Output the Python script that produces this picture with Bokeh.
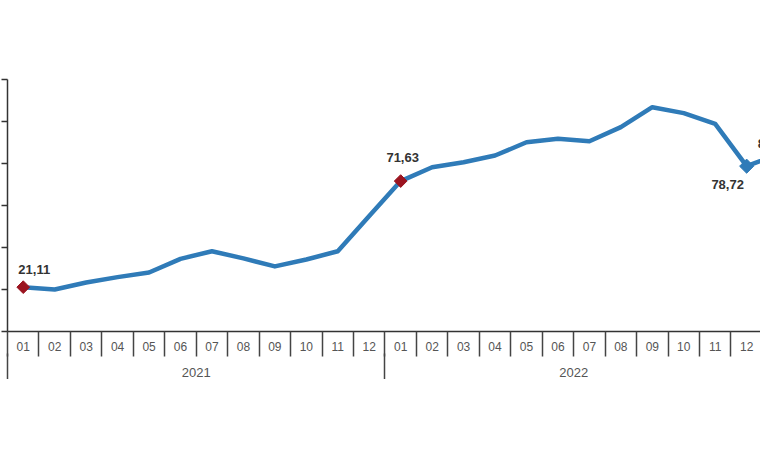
import math
from bokeh.plotting import figure
from bokeh.models import ColumnDataSource, FixedTicker, LinearAxis, Range1d, CustomJSTickFormatter
from bokeh.embed import file_html
from bokeh.resources import INLINE
from bokeh.core.properties import value

# ---- data ----
months = ["01", "02", "03", "04", "05", "06", "07", "08", "09", "10", "11", "12"]
years = ["2021", "2022"]
v2021 = [21.11, 20.0, 23.3, 25.9, 28.1, 34.6, 38.2, 34.8, 31.0, 34.3, 38.2, 55.0]
v2022 = [71.63, 78.2, 80.6, 83.8, 90.1, 91.8, 90.6, 97.3, 106.8, 104.0, 98.9, 78.72]
v2023 = [84.5]
labelled = [0, 12, 23, 24]       # indices of points carrying a value label
red_marked = [0, 12]
blue_marked = [23]

values = v2021 + v2022 + v2023
idx = list(range(len(values)))

LINE = "#2f7bb8"
RED = "#9b1420"
FONT = "Liberation Sans"

p = figure(frame_width=753, frame_height=252,
           x_range=Range1d(-0.5005, 23.44), y_range=Range1d(0, 120),
           output_backend="svg", toolbar_location=None,
           min_border_left=7, min_border_right=0, min_border_top=79,
           min_border_bottom=0)
p.outline_line_color = None
p.xgrid.visible = False
p.ygrid.visible = False
p.background_fill_color = "white"
p.border_fill_color = "white"

# y axis: line and ticks only (its labels lie outside the visible area)
ya = p.yaxis[0]
ya.ticker = FixedTicker(ticks=[0, 20, 40, 60, 80, 100, 120])
ya.formatter = CustomJSTickFormatter(code="return '';")
ya.major_tick_out = 6
ya.major_tick_in = 0
ya.minor_tick_out = 0
ya.minor_tick_in = 0
ya.major_label_standoff = 0
ya.major_tick_line_color = "#333333"
ya.major_tick_line_width = 1.5
ya.axis_line_color = "#333333"
ya.axis_line_width = 1.5

# x axis 1: month labels + month separators
xa = p.xaxis[0]
xa.ticker = FixedTicker(ticks=idx[:24], minor_ticks=[i - 0.5 for i in range(25)])
xa.formatter = CustomJSTickFormatter(args=dict(labels=months),
                                     code="return labels[((Math.round(tick) % 12) + 12) % 12];")
xa.major_tick_out = 0
xa.major_tick_in = 0
xa.minor_tick_out = 25
xa.minor_tick_in = 0
xa.minor_tick_line_color = "#444444"
xa.minor_tick_line_width = 1.5
xa.axis_line_color = "#333333"
xa.axis_line_width = 1.5
xa.major_label_text_font = FONT
xa.major_label_text_font_size = "12px"
xa.major_label_text_color = "#555555"
xa.major_label_standoff = -15

# x axis 2: year labels + year separators
xa2 = LinearAxis(ticker=FixedTicker(ticks=[5.5, 17.5], minor_ticks=[-0.5, 11.5, 23.5]),
                 formatter=CustomJSTickFormatter(args=dict(labels=years),
                                                 code="return labels[Math.floor(tick / 12)] || '';"))
xa2.axis_line_color = None
xa2.major_tick_out = 0
xa2.major_tick_in = 0
xa2.minor_tick_out = 34
xa2.minor_tick_in = 0
xa2.minor_tick_line_color = "#444444"
xa2.minor_tick_line_width = 1.5
xa2.major_label_text_font = FONT
xa2.major_label_text_font_size = "13px"
xa2.major_label_text_color = "#555555"
xa2.major_label_standoff = -20
p.add_layout(xa2, "below")

# line
p.line(idx, values, line_color=LINE, line_width=4.5, line_join="round")

# markers
p.scatter([idx[i] for i in red_marked], [values[i] for i in red_marked], marker="square",
          angle=math.pi / 4, size=9, fill_color=RED, line_color=RED)
p.scatter([idx[i] for i in blue_marked], [values[i] for i in blue_marked], marker="square",
          angle=math.pi / 4, size=10, fill_color=LINE, line_color=LINE)

# value labels
lab = ColumnDataSource(dict(
    x=[idx[i] for i in labelled],
    y=[values[i] for i in labelled],
    t=[f"{values[i]:.2f}".replace(".", ",") for i in labelled],
    dx=[11, 2, -19, -4],
    dy=[-18, -24, 18, -11],
))
p.text(x="x", y="y", text="t", x_offset="dx", y_offset="dy", source=lab,
       text_align="center", text_baseline="middle",
       text_font=value(FONT), text_font_size="13px", text_font_style="bold",
       text_color="#333333")

open("out.html", "w").write(file_html(p, INLINE))
